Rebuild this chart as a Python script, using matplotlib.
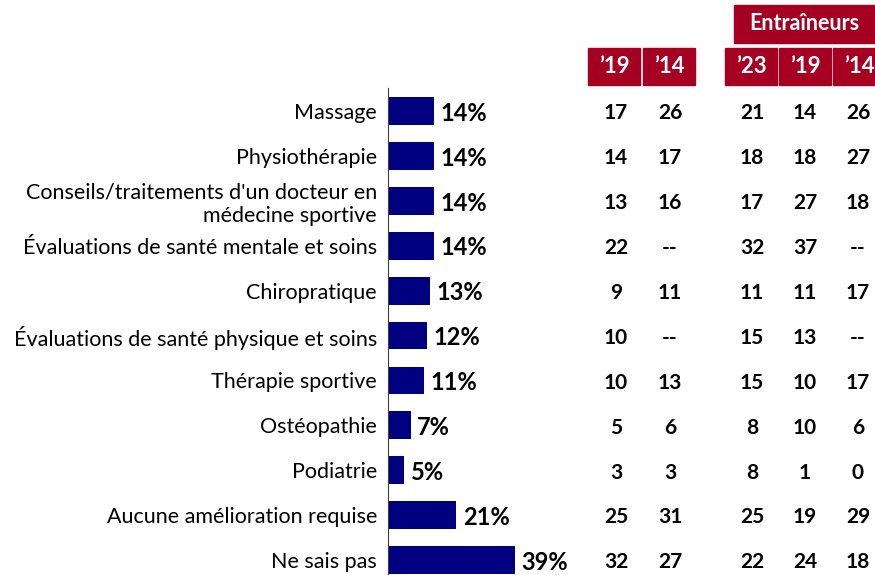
import numpy as np
import matplotlib
matplotlib.use('Agg')
from matplotlib import pyplot as plt
from matplotlib import transforms as mtrans
from matplotlib.patches import Rectangle

plt.rcParams['font.family'] = ['Lato', 'DejaVu Sans']

# donnees
categories = ['Massage', 'Physiothérapie',
              "Conseils/traitements d'un docteur en\nmédecine sportive",
              'Évaluations de santé mentale et soins', 'Chiropratique',
              'Évaluations de santé physique et soins', 'Thérapie sportive',
              'Ostéopathie', 'Podiatrie', 'Aucune amélioration requise',
              'Ne sais pas']
pct = [14, 14, 14, 14, 13, 12, 11, 7, 5, 21, 39]
col_19 = ['17', '14', '13', '22', '9', '10', '10', '5', '3', '25', '32']
col_14 = ['26', '17', '16', '--', '11', '--', '13', '6', '3', '31', '27']
ent_23 = ['21', '18', '17', '32', '11', '15', '15', '8', '8', '25', '22']
ent_19 = ['14', '18', '27', '37', '11', '13', '10', '10', '1', '19', '24']
ent_14 = ['26', '27', '18', '--', '17', '--', '17', '6', '0', '29', '18']
headers = ["\u201919", "\u201914", "\u201923", "\u201919", "\u201914"]
group_title = 'Entraîneurs'

W, H = 875, 575
barcol = '#000080'
redcol = '#A50021'

fig = plt.figure(figsize=(W / 100, H / 100), dpi=100)
ax = fig.add_axes([388 / W, 0, 1 - 388 / W, (575 - 88) / H])

y = np.arange(len(categories))
ax.barh(y, pct, height=0.62, color=barcol)
ax.set_xlim(0, (W - 388) / 3.26)
ax.set_ylim(len(categories) - 1 + 0.33, -0.51)
ax.set_yticks(y)
ax.set_yticklabels(categories, fontsize=15.5, ha='right', linespacing=1.2)
ax.tick_params(axis='y', length=0, pad=8)
ax.set_xticks([])
for s in ['top', 'right', 'bottom']:
    ax.spines[s].set_visible(False)
ax.spines['left'].set_color('#404040')

for i, v in enumerate(pct):
    ax.text(v + 2, i + 0.05, '%d%%' % v, va='center', ha='left',
            fontsize=17, fontweight='bold')

# tableau
tr = mtrans.blended_transform_factory(fig.transFigure, ax.transData)
xcols = [616, 670, 752, 805, 858]
for xc, col in zip(xcols, [col_19, col_14, ent_23, ent_19, ent_14]):
    for i, v in enumerate(col):
        ax.text(xc / W, i + 0.05, v, transform=tr, ha='center', va='center',
                fontsize=15, fontweight='bold')

# entetes
boxes = [(588, 640), (643, 695), (725, 777), (779, 831), (833, 885)]
for (x0, x1), h in zip(boxes, headers):
    fig.patches.append(Rectangle((x0 / W, 1 - 85 / H), (x1 - x0) / W, 37 / H,
                                 transform=fig.transFigure, color=redcol))
    fig.text((x0 + x1) / 2 / W, 1 - 67 / H, h, ha='center', va='center',
             color='white', fontsize=16, fontweight='bold')
fig.patches.append(Rectangle((734 / W, 1 - 43 / H), 150 / W, 38 / H,
                             transform=fig.transFigure, color=redcol))
fig.text(804 / W, 1 - 24 / H, group_title, ha='center', va='center',
         color='white', fontsize=15.5, fontweight='bold')

plt.savefig('out.png', dpi=100)
